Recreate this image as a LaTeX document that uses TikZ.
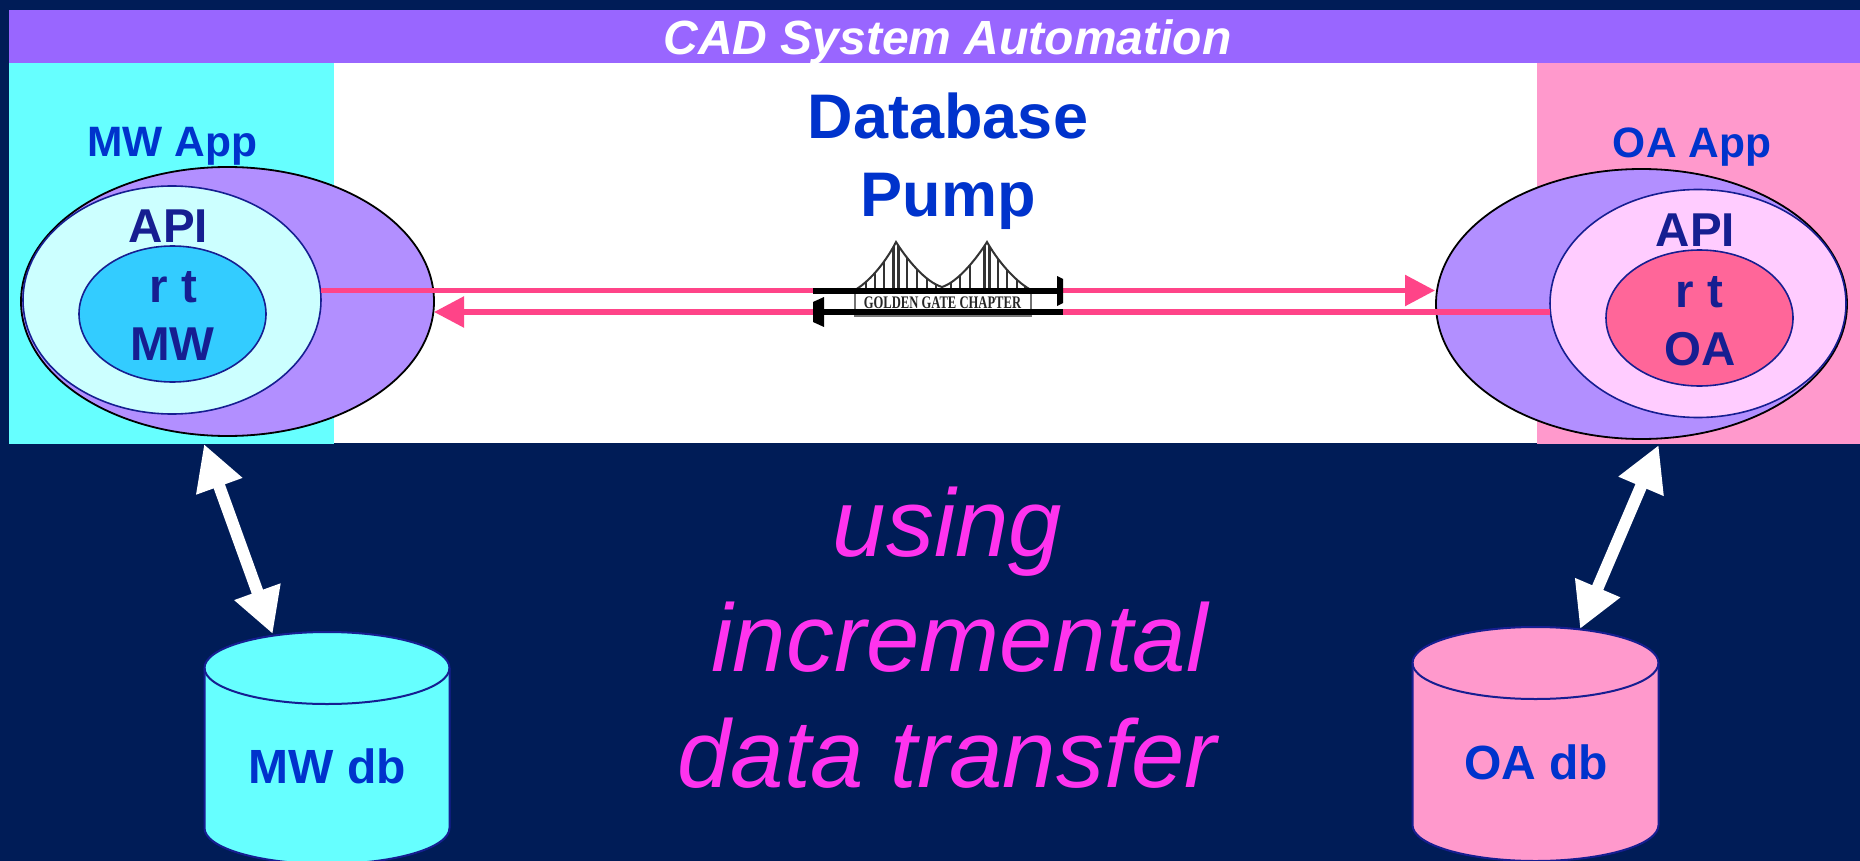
\documentclass[tikz,border=0pt]{standalone}
\usepackage{graphicx}
\usepackage{fontspec}
\setmainfont{Liberation Sans}
\newfontfamily\bridgefont{Liberation Serif}
\usetikzlibrary{arrows.meta,shapes.geometric}
\definecolor{navybg}{RGB}{0,28,87}
\definecolor{barpurple}{RGB}{153,102,255}
\definecolor{cyanbg}{RGB}{102,255,255}
\definecolor{pinkbg}{RGB}{255,153,204}
\definecolor{lilac}{RGB}{178,143,255}
\definecolor{palecyan}{RGB}{204,255,255}
\definecolor{skyrt}{RGB}{51,204,255}
\definecolor{palepink}{RGB}{255,204,255}
\definecolor{rosert}{RGB}{255,102,153}
\definecolor{darkblue}{RGB}{22,30,145}
\definecolor{textblue}{RGB}{0,51,204}
\definecolor{linkpink}{RGB}{255,68,136}
\definecolor{magentatext}{RGB}{255,51,238}
\newcommand{\fsz}[1]{\fontsize{#1}{#1}\selectfont}
\tikzset{
  x=1pt,y=-1pt,
  label base/.style={anchor=base,inner sep=0pt,outer sep=0pt},
  bluetext/.style={label base,text=textblue,font=\bfseries\fsz{#1}},
  navytext/.style={label base,text=darkblue,font=\bfseries\fsz{47.5}},
  pinktext/.style={label base,text=magentatext,font=\itshape\fsz{96}},
  outerell/.style={ellipse,draw=black,line width=1.8pt,fill=lilac,inner sep=0pt,outer sep=0pt},
  innerell/.style={ellipse,draw=darkblue,line width=1.6pt,inner sep=0pt,outer sep=0pt},
  cyl/.style={draw=darkblue,line width=2pt},
  linkarrow/.style={draw=linkpink,line width=5.5pt,-{Triangle[length=30pt,width=30pt,fill=linkpink]}},
  dblarrow/.style={draw=white,line width=12pt,{Triangle[length=45pt,width=46pt,fill=white]}-{Triangle[length=45pt,width=46pt,fill=white]}},
  pumpbar/.style={draw=black,line width=6pt},
  bridgeline/.style={draw=black!80,line width=1.8pt},
}
\begin{document}
\begin{tikzpicture}
\useasboundingbox (0,0) rectangle (1860,861);
\clip (0,0) rectangle (1860,861);
% backgrounds
\fill[navybg] (0,0) rectangle (1860,861);
\fill[white] (334,63) rectangle (1537,443);
\fill[cyanbg] (9,63) rectangle (334,444);
\fill[pinkbg] (1537,63) rectangle (1860,444);
\fill[barpurple] (9,10) rectangle (1860,63);
\node[label base,text=white,font=\bfseries\itshape\fsz{48}] (title) at (947.5,55) {CAD System Automation};
% headings
\node[bluetext=63] (dbword) at (948,139) {Database};
\node[bluetext=63] (pumpword) at (948,216.5) {Pump};
\node[bluetext=42.5] (mwapp) at (172.5,157) {MW App};
\node[bluetext=42.5] (oaapp) at (1692,158) {OA App};
% left ellipses
\node[outerell,minimum width=413pt,minimum height=269pt] (mwouter) at (227.5,301.5) {};
\node[innerell,fill=palecyan,minimum width=298pt,minimum height=228pt] (mwapi) at (172,300) {};
\node[innerell,fill=skyrt,minimum width=187pt,minimum height=136pt] (mwrt) at (172.5,314) {};
\node[navytext] (mwapil) at (168.5,242) {API};
\node[navytext] (mwrtl) at (173.5,302) {r t};
\node[navytext] (mwl) at (172.5,360) {MW};
% right ellipses
\node[outerell,minimum width=411pt,minimum height=270pt] (oaouter) at (1641.5,304) {};
\node[innerell,fill=palepink,minimum width=296pt,minimum height=228pt] (oaapi) at (1698,303.5) {};
\node[innerell,fill=rosert,minimum width=187pt,minimum height=136pt] (oart) at (1699.5,318) {};
\node[navytext] (oaapil) at (1695.5,246) {API};
\node[navytext] (oartl) at (1699.5,307) {r t};
\node[navytext] (oal) at (1700,365) {OA};
% bridge
\begin{scope}
  \clip (855,290) .. controls (872,280) and (888,258) .. (896,242)
        .. controls (906,258) and (925,282) .. (942,287)
        .. controls (958,282) and (977,258) .. (987,242)
        .. controls (996,258) and (1013,280) .. (1031,290) -- cycle;
  \foreach \bx in {866,875,884,907,917,927,936,951,960,970,998,1007,1017,1025}
    \draw[bridgeline] (\bx,238) -- (\bx,292);
  \foreach \bx in {893.5,898.5,984.5,989.5}
    \draw[draw=black!80,line width=2.4pt] (\bx,238) -- (\bx,292);
\end{scope}
\draw[bridgeline,line width=2pt] (855,290) .. controls (872,280) and (888,258) .. (896,242)
        .. controls (906,258) and (925,282) .. (942,287)
        .. controls (958,282) and (977,258) .. (987,242)
        .. controls (996,258) and (1013,280) .. (1031,290);
\draw[draw=black!55,line width=1.6pt] (855,292) rectangle (1031,316);
\node[inner sep=0pt,text=black!85,font=\bridgefont\bfseries\fsz{12.6}] (bridgetext) at (942.5,303) {\scalebox{1}[1.4]{GOLDEN GATE CHAPTER}};
% link lines
\coordinate (upstart) at (320.5,290.5);
\coordinate (upend) at (1435,290.5);
\coordinate (lowstart) at (1550,312);
\coordinate (lowend) at (434,312);
\draw[linkarrow] (upstart) -- (upend);
\draw[linkarrow] (lowstart) -- (lowend);
% pump bars
\coordinate (barA) at (813,290.5);
\coordinate (barB) at (1060,290.5);
\coordinate (barC) at (1063,311.5);
\coordinate (barD) at (820,311.5);
\draw[pumpbar] (barA) -- (barB);
\draw[pumpbar] (barC) -- (barD);
\fill[black] (1057,276) -- (1063,279) -- (1063,303) -- (1057,306) -- cycle;
\fill[black] (813,302) -- (824,297) -- (824,327) -- (813,322) -- cycle;
% cylinders
\draw[cyl,fill=cyanbg] (204.5,668) -- (204.5,828) arc[start angle=180,end angle=0,x radius=122.5,y radius=36] -- (449.5,668) arc[start angle=0,end angle=-180,x radius=122.5,y radius=36] -- cycle;
\draw[cyl] (204.5,668) arc[start angle=180,end angle=0,x radius=122.5,y radius=36];
\draw[cyl,fill=pinkbg] (1412.5,663) -- (1412.5,825) arc[start angle=180,end angle=0,x radius=123,y radius=36] -- (1658.5,663) arc[start angle=0,end angle=-180,x radius=123,y radius=36] -- cycle;
\draw[cyl] (1412.5,663) arc[start angle=180,end angle=0,x radius=123,y radius=36];
\node[bluetext=48] (mwdb) at (327.5,783) {MW db};
\node[bluetext=48] (oadb) at (1536,779) {OA db};
% white arrows
\coordinate (mwtop) at (204,444);
\coordinate (mwbot) at (272.7,634);
\coordinate (oatop) at (1658.7,445);
\coordinate (oabot) at (1580,629);
\draw[dblarrow] (mwtop) -- (mwbot);
\draw[dblarrow] (oatop) -- (oabot);
% lower text
\node[pinktext] (using) at (947.5,556) {using};
\node[pinktext] (incr) at (959.5,671) {incremental};
\node[pinktext] (dtrans) at (947,787) {data transfer};
\end{tikzpicture}
\end{document}
